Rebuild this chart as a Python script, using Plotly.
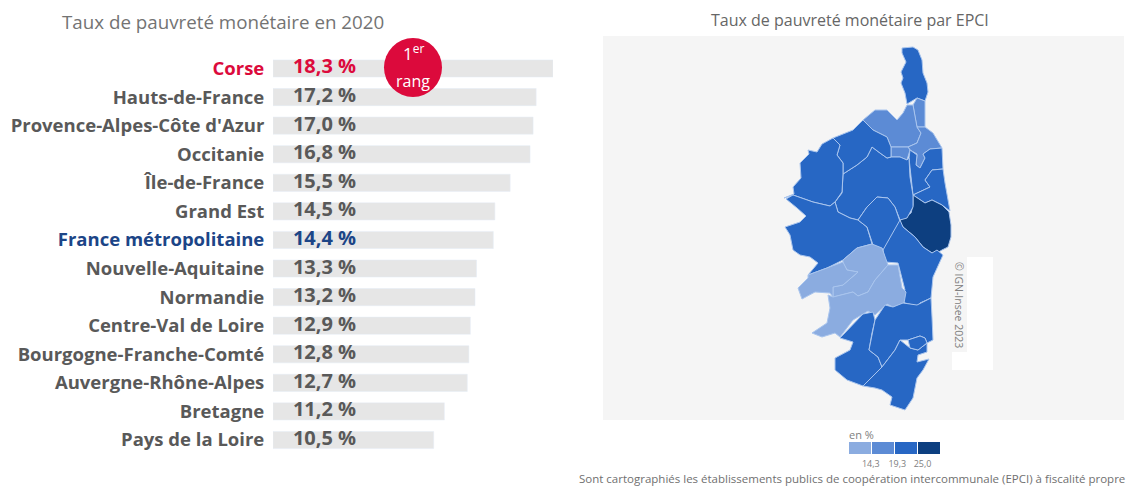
import plotly.graph_objects as go

W, H = 1128, 488

regions = ["Corse", "Hauts-de-France", "Provence-Alpes-Côte d'Azur", "Occitanie", "Île-de-France",
           "Grand Est", "France métropolitaine", "Nouvelle-Aquitaine", "Normandie", "Centre-Val de Loire",
           "Bourgogne-Franche-Comté", "Auvergne-Rhône-Alpes", "Bretagne", "Pays de la Loire"]
rates = [18.3, 17.2, 17.0, 16.8, 15.5, 14.5, 14.4, 13.3, 13.2, 12.9, 12.8, 12.7, 11.2, 10.5]
highlight = {"Corse": "#dc0a3c", "France métropolitaine": "#1c4587"}
GREY_TEXT = "#595959"

legend_labels = ["14,3", "19,3", "25,0"]
CLASS_COLORS = ["#8bace0", "#5c8bd5", "#2767c4", "#0d3f80"]

# contours des EPCI (abscisse, ordonnee en pixels)
cap_corse = [(902, 48), (913, 47), (918, 50), (922, 60), (923, 73), (927, 83), (928, 92), (925, 101), (917, 98),
             (907, 104), (905, 93), (901, 83), (903, 78), (901, 72), (906, 62), (902, 53)]
cap_est = [(917, 98), (925, 101), (925, 127), (917, 127), (915, 117), (913, 105)]
nebbio = [(863, 120), (875, 110), (887, 110), (897, 120), (903, 113), (907, 105), (913, 105), (915, 117), (917, 127),
          (921, 133), (917, 143), (908, 147), (891, 147), (887, 137), (873, 130)]
marana = [(917, 127), (925, 127), (933, 133), (942, 148), (930, 149), (923, 154), (925, 158), (920, 168), (916, 165),
          (917, 154), (910, 150), (908, 147), (917, 143), (921, 133)]
centre_petit = [(891, 147), (908, 147), (910, 150), (907, 160), (900, 157), (891, 157)]
casinca = [(910, 150), (917, 155), (916, 165), (920, 168), (925, 158), (923, 154), (930, 149), (942, 148), (943, 169),
           (932, 170), (925, 180), (930, 187), (913, 195), (910, 170), (909, 158)]
costa_verde = [(932, 170), (943, 169), (945, 183), (950, 211), (942, 205), (932, 200), (925, 203), (913, 195), (930, 187),
               (925, 180)]
oriente = [(913, 195), (925, 203), (932, 200), (942, 205), (949, 212), (951, 225), (951, 237), (948, 247), (942, 250),
           (937, 253), (932, 253), (923, 247), (915, 237), (903, 227), (899, 221), (911, 213), (913, 205)]
corte = [(843, 174), (857, 165), (867, 157), (872, 147), (880, 153), (887, 158), (891, 157), (900, 157), (907, 160),
         (909, 158), (910, 177), (913, 195), (913, 207), (907, 218), (900, 220), (895, 207), (888, 198), (877, 197),
         (867, 207), (858, 220), (850, 218), (838, 212), (835, 202), (842, 193)]
balagne = [(833, 138), (853, 130), (863, 120), (873, 130), (887, 137), (891, 147), (891, 157), (887, 158), (880, 153),
           (872, 147), (867, 157), (857, 165), (843, 174), (843, 163), (837, 155), (840, 145)]
porto = [(784, 198), (793, 195), (813, 202), (830, 206), (835, 202), (842, 192), (843, 174), (843, 163), (837, 155),
         (840, 145), (833, 138), (822, 144), (817, 152), (808, 150), (809, 154), (800, 163), (801, 178), (793, 187),
         (794, 194)]
cinarca = [(786, 199), (793, 195), (813, 202), (830, 206), (835, 202), (838, 212), (850, 218), (858, 220), (867, 227),
           (872, 244), (857, 248), (843, 260), (827, 268), (808, 275), (818, 263), (810, 257), (800, 255), (793, 250),
           (790, 235), (785, 227), (800, 222), (806, 216), (797, 208)]
gravona = [(858, 220), (867, 207), (877, 197), (888, 198), (895, 207), (900, 220), (902, 227), (885, 250), (873, 245),
           (867, 227)]
fiumorbo = [(900, 220), (903, 227), (915, 237), (923, 247), (932, 253), (937, 250), (943, 255), (933, 277),
            (931, 298), (920, 303), (917, 306), (905, 303), (900, 300), (905, 290), (898, 263), (885, 262), (883, 250)]
celavo = [(843, 260), (857, 248), (872, 244), (882, 248), (888, 265), (875, 280), (868, 292), (858, 296), (853, 292),
          (833, 297), (833, 287), (843, 285), (858, 272), (847, 270), (843, 263)]
prunelli = [(808, 275), (827, 268), (843, 262), (847, 270), (858, 272), (843, 285), (833, 287), (833, 297), (830, 293),
            (815, 292), (802, 299), (798, 288), (808, 278)]
taravo = [(833, 297), (853, 292), (858, 296), (868, 292), (875, 280), (888, 265), (898, 265), (902, 288), (906, 292),
          (904, 303), (893, 307), (887, 304), (875, 315), (868, 311), (853, 320), (840, 337), (835, 333), (822, 337),
          (812, 333), (827, 323), (830, 308), (828, 295)]
sartenais = [(873, 312), (863, 314), (840, 338), (853, 342), (850, 350), (835, 358), (835, 370), (847, 380), (863, 386),
             (882, 367), (878, 357), (869, 350), (872, 333), (875, 320)]
alta_rocca = [(875, 320), (885, 305), (893, 307), (903, 303), (917, 305), (931, 298), (932, 317), (933, 340), (927, 343),
              (925, 338), (920, 336), (908, 340), (900, 340), (895, 350), (882, 367), (878, 357), (869, 350), (872, 333)]
sud_corse = [(863, 386), (882, 367), (895, 350), (900, 340), (910, 348), (918, 350), (927, 343), (927, 352), (918, 355),
             (917, 362), (929, 359), (923, 370), (917, 378), (915, 390), (913, 398), (905, 410), (890, 405), (892, 397),
             (882, 390), (875, 388)]
porto_vecchio = [(908, 340), (920, 336), (925, 338), (927, 343), (918, 350), (910, 348)]

epci_shapes = [(cap_corse, 2), (cap_est, 1), (nebbio, 1), (marana, 1), (centre_petit, 1), (casinca, 2),
               (costa_verde, 2), (oriente, 3), (corte, 2), (balagne, 2), (porto, 2), (cinarca, 2), (gravona, 2),
               (fiumorbo, 2), (celavo, 0), (prunelli, 0), (taravo, 0), (sartenais, 2), (alta_rocca, 2),
               (sud_corse, 2), (porto_vecchio, 2)]


def px(x):
    return x / W


def py(y):
    return 1 - y / H


def label(text, x, y, size, color, xanchor="center", **kw):
    return dict(text=text, x=px(x), y=py(y), xref="paper", yref="paper", xanchor=xanchor, yanchor="middle",
                showarrow=False, font=dict(family="Open Sans", size=size, color=color), **kw)


fig = go.Figure()

fig.add_trace(go.Bar(x=rates, y=regions, orientation="h", marker_color="#e6e6e6", width=0.6, hoverinfo="skip"))
fig.add_trace(go.Scatter(
    x=[1.3] * len(rates), y=regions, mode="text",
    text=[f"{v:.1f}".replace(".", ",") + " %" for v in rates],
    textposition="middle right",
    textfont=dict(family="Open Sans", size=20, weight=700,
                  color=[highlight.get(r, GREY_TEXT) for r in regions]),
))

for points, cls in epci_shapes:
    fig.add_trace(go.Scatter(
        x=[p[0] for p in points] + [points[0][0]],
        y=[p[1] for p in points] + [points[0][1]],
        mode="lines", fill="toself", fillcolor=CLASS_COLORS[cls],
        line=dict(color="#a9c5ee", width=1), xaxis="x2", yaxis="y2",
    ))

fig.add_trace(go.Heatmap(
    z=[[0, 1, 2, 3]], x=[0.5, 1.5, 2.5, 3.5], xgap=1, showscale=False, zmin=0, zmax=3,
    colorscale=[[0, CLASS_COLORS[0]], [0.33, CLASS_COLORS[0]], [0.33, CLASS_COLORS[1]], [0.5, CLASS_COLORS[1]],
                [0.5, CLASS_COLORS[2]], [0.67, CLASS_COLORS[2]], [0.67, CLASS_COLORS[3]], [1, CLASS_COLORS[3]]],
    xaxis="x3", yaxis="y3",
))

fig.update_layout(
    width=W, height=H, autosize=False,
    margin=dict(l=0, r=0, t=0, b=0),
    paper_bgcolor="white", plot_bgcolor="rgba(0,0,0,0)",
    showlegend=False, bargap=0.4,
    font=dict(family="Open Sans", color=GREY_TEXT),
    xaxis=dict(domain=[px(273), px(553)], range=[0, 18.3], visible=False),
    yaxis=dict(
        domain=[py(454.3), py(54.2)], range=[13.5, -0.5], categoryorder="array", categoryarray=regions,
        tickmode="array", tickvals=regions,
        ticktext=[f'<span style="color:{highlight[r]}">{r}</span>' if r in highlight else r for r in regions],
        tickfont=dict(family="Open Sans", size=18.5, weight=700, color=GREY_TEXT),
        ticks="outside", ticklen=4, tickcolor="rgba(0,0,0,0)", showgrid=False, showline=False, zeroline=False,
    ),
    xaxis2=dict(domain=[px(603), px(1124)], range=[603, 1124], visible=False),
    yaxis2=dict(domain=[py(420), py(36)], range=[420, 36], visible=False, anchor="x2"),
    xaxis3=dict(
        domain=[px(849), px(941)], range=[0, 4], anchor="y3", tickmode="array", tickvals=[0.95, 2.1, 3.2],
        ticktext=legend_labels, tickfont=dict(size=9, color="#808080"), ticks="", ticklabelstandoff=3,
        showgrid=False, showline=False, zeroline=False,
    ),
    yaxis3=dict(domain=[py(454), py(442)], anchor="x3", visible=False),
    shapes=[
        dict(type="rect", xref="x2", yref="y2", x0=603, x1=1124, y0=36, y1=420, fillcolor="#f5f5f5",
             line_width=0, layer="below"),
        dict(type="rect", xref="x2", yref="y2", x0=967, x1=993, y0=257, y1=370, fillcolor="white",
             line_width=0, layer="below"),
        dict(type="rect", xref="x2", yref="y2", x0=952, x1=967, y0=352, y1=370, fillcolor="white",
             line_width=0, layer="below"),
        dict(type="circle", xref="paper", yref="paper", x0=px(384), x1=px(442), y0=py(97), y1=py(38),
             fillcolor="#dc0a3c", line_width=0),
    ],
    annotations=[
        label("Taux de pauvreté monétaire en 2020", 60, 22, 18.75, "#737373", xanchor="left"),
        label("1<sup>er</sup>", 413, 52, 17, "white"),
        label("rang", 413, 81, 16, "white"),
        label("Taux de pauvreté monétaire par EPCI", 850, 20, 16, "#666666"),
        label("© IGN-Insee 2023", 959, 305, 10.5, "#808080", textangle=90),
        label("en %", 847, 434, 11, "#808080", xanchor="left"),
        label("Sont cartographiés les établissements publics de coopération intercommunale (EPCI) à fiscalité propre",
              1127, 478, 11.5, "#707070", xanchor="right"),
    ],
)

fig.write_html("out.html", config={"displayModeBar": False}, post_script="document.body.style.margin = '0';")
